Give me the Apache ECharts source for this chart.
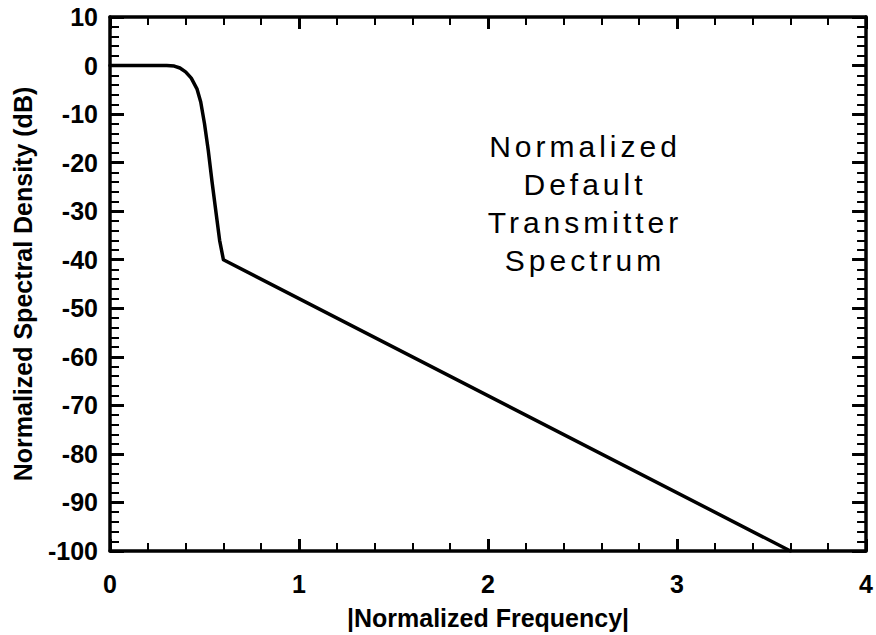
<!DOCTYPE html>
<html>
<head>
<meta charset="utf-8">
<script src="https://cdn.jsdelivr.net/npm/echarts@6/dist/echarts.min.js"></script>
<style>
  html, body { margin: 0; padding: 0; background: #fff; }
  #chart { width: 876px; height: 635px; }
  /* widen the tracking of the in-plot caption */
  #chart text[fill="#000001"] { letter-spacing: 4px; }
</style>
</head>
<body>
<div id="chart"></div>
<script>
// |normalized frequency| and normalized spectral density (dB)
const freq = [0, 0.30, 0.34, 0.37, 0.40, 0.43, 0.46, 0.48, 0.50, 0.52, 0.54, 0.56, 0.58, 0.60, 3.60];
const psd  = [0, 0, -0.1, -0.5, -1.3, -2.6, -4.8, -7.5, -12, -17.5, -24, -30, -36, -40, -100];

const xRange = [0, 4];
const yRange = [-100, 10];
const xName = '|Normalized Frequency|';
const yName = 'Normalized Spectral Density (dB)';
const caption = ['Normalized', 'Default', 'Transmitter', 'Spectrum'];

const black = '#000';
const labelFont = { fontFamily: 'Liberation Sans', fontWeight: 'bold', fontSize: 25, color: black };
const nameFont = { fontFamily: 'Liberation Sans', fontWeight: 'bold', fontSize: 25, color: black };

function frameAxis(kind, pos, showLabels, majorLen, minorLen, extra) {
  const isX = kind === 'x';
  return Object.assign({
    type: 'value',
    position: pos,
    min: isX ? xRange[0] : yRange[0],
    max: isX ? xRange[1] : yRange[1],
    interval: isX ? 1 : 10,
    axisLine: { show: true, onZero: false, lineStyle: { color: black, width: 3.5 } },
    axisTick: { show: true, inside: true, length: majorLen, lineStyle: { color: black, width: 3 } },
    minorTick: { show: true, splitNumber: 5, length: minorLen, lineStyle: { color: black, width: 2 } },
    splitLine: { show: false },
    axisLabel: showLabels ? Object.assign({ margin: isX ? 20 : 12 }, labelFont) : { show: false }
  }, extra || {});
}

const chart = echarts.init(document.getElementById('chart'), null, { renderer: 'svg' });

chart.setOption({
  animation: false,
  backgroundColor: '#fff',
  grid: { left: 110, right: 5, top: 17, bottom: 83, containLabel: false },
  xAxis: [
    frameAxis('x', 'bottom', true, 12, 8, {
      name: xName, nameLocation: 'middle', nameGap: 54, nameTextStyle: nameFont
    }),
    frameAxis('x', 'top', false, 12, 8)
  ],
  yAxis: [
    frameAxis('y', 'left', true, 14, 9, {
      name: yName, nameLocation: 'middle', nameGap: 75, nameTextStyle: nameFont
    }),
    frameAxis('y', 'right', false, 14, 9)
  ],
  series: [{
    type: 'line',
    xAxisIndex: 0,
    yAxisIndex: 0,
    data: freq.map((f, i) => [f, psd[i]]),
    showSymbol: false,
    symbol: 'none',
    lineStyle: { color: black, width: 3.5, join: 'round', cap: 'round' },
    clip: true
  }],
  graphic: [{
    type: 'text',
    x: 585,
    y: 203,
    silent: true,
    style: {
      text: caption.join('\n'),
      fill: '#000001',
      fontFamily: 'Liberation Sans',
      fontSize: 30,
      lineHeight: 38,
      textAlign: 'center',
      textVerticalAlign: 'middle'
    }
  }]
});
</script>
</body>
</html>
